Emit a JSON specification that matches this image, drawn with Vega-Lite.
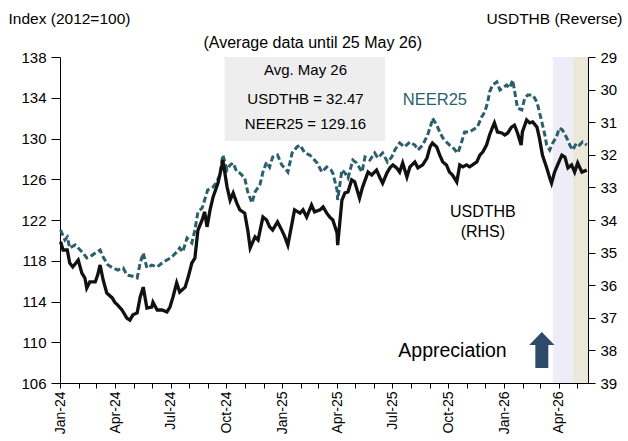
{
  "$schema": "https://vega.github.io/schema/vega-lite/v6.json",
  "width": 528,
  "height": 326,
  "autosize": {"type": "none"},
  "padding": {"left": 60, "top": 57, "right": 40, "bottom": 58},
  "background": "white",
  "config": {
    "font": "Liberation Sans",
    "view": {"stroke": null},
    "axis": {"labelFont": "Liberation Sans", "titleFont": "Liberation Sans", "labelColor": "#000", "titleColor": "#000", "domainColor": "#000", "tickColor": "#000", "grid": false, "titleFontWeight": "normal"}
  },
  "datasets": {
    "neer": [
      {"d": "2024-01-02", "v": 121.02}, {"d": "2024-01-09", "v": 120.04}, {"d": "2024-01-13", "v": 120.33}, {"d": "2024-01-17", "v": 119.25},
      {"d": "2024-01-26", "v": 119.55}, {"d": "2024-01-31", "v": 119.25}, {"d": "2024-02-08", "v": 118.76}, {"d": "2024-02-14", "v": 118.27},
      {"d": "2024-02-19", "v": 118.37}, {"d": "2024-02-28", "v": 118.76}, {"d": "2024-03-07", "v": 119.06}, {"d": "2024-03-12", "v": 118.37},
      {"d": "2024-03-20", "v": 117.58}, {"d": "2024-03-28", "v": 117.29}, {"d": "2024-04-05", "v": 117.09}, {"d": "2024-04-14", "v": 117.29},
      {"d": "2024-04-20", "v": 116.6}, {"d": "2024-04-28", "v": 116.5}, {"d": "2024-05-07", "v": 116.31}, {"d": "2024-05-12", "v": 117.78},
      {"d": "2024-05-17", "v": 118.76}, {"d": "2024-05-23", "v": 117.29}, {"d": "2024-05-31", "v": 117.58}, {"d": "2024-06-09", "v": 117.39},
      {"d": "2024-06-17", "v": 117.78}, {"d": "2024-06-25", "v": 118.07}, {"d": "2024-07-03", "v": 118.37}, {"d": "2024-07-11", "v": 118.86},
      {"d": "2024-07-16", "v": 119.25}, {"d": "2024-07-21", "v": 118.86}, {"d": "2024-07-28", "v": 120.23}, {"d": "2024-08-05", "v": 119.74},
      {"d": "2024-08-10", "v": 121.02}, {"d": "2024-08-15", "v": 122.79}, {"d": "2024-08-22", "v": 123.18}, {"d": "2024-08-26", "v": 123.96},
      {"d": "2024-08-31", "v": 124.94}, {"d": "2024-09-09", "v": 125.24}, {"d": "2024-09-15", "v": 125.73}, {"d": "2024-09-20", "v": 126.42},
      {"d": "2024-09-25", "v": 128.38}, {"d": "2024-10-02", "v": 126.91}, {"d": "2024-10-07", "v": 127.4}, {"d": "2024-10-12", "v": 127.6},
      {"d": "2024-10-18", "v": 126.71}, {"d": "2024-10-23", "v": 126.61}, {"d": "2024-10-31", "v": 126.12}, {"d": "2024-11-05", "v": 124.75},
      {"d": "2024-11-12", "v": 123.67}, {"d": "2024-11-17", "v": 124.75}, {"d": "2024-11-25", "v": 125.44}, {"d": "2024-11-30", "v": 126.71},
      {"d": "2024-12-06", "v": 127.69}, {"d": "2024-12-11", "v": 127.2}, {"d": "2024-12-16", "v": 128.18}, {"d": "2024-12-24", "v": 128.38},
      {"d": "2024-12-31", "v": 127.4}, {"d": "2025-01-05", "v": 127.1}, {"d": "2025-01-10", "v": 126.71}, {"d": "2025-01-17", "v": 128.58},
      {"d": "2025-01-25", "v": 129.17}, {"d": "2025-01-30", "v": 129.36}, {"d": "2025-02-07", "v": 128.58}, {"d": "2025-02-15", "v": 128.38},
      {"d": "2025-02-20", "v": 128.09}, {"d": "2025-02-27", "v": 127.6}, {"d": "2025-03-07", "v": 126.71}, {"d": "2025-03-15", "v": 127.2},
      {"d": "2025-03-22", "v": 126.91}, {"d": "2025-03-25", "v": 126.61}, {"d": "2025-04-01", "v": 124.94}, {"d": "2025-04-02", "v": 123.96},
      {"d": "2025-04-09", "v": 126.91}, {"d": "2025-04-14", "v": 126.61}, {"d": "2025-04-19", "v": 126.12}, {"d": "2025-04-27", "v": 127.89},
      {"d": "2025-05-03", "v": 127.6}, {"d": "2025-05-12", "v": 126.71}, {"d": "2025-05-17", "v": 128.18}, {"d": "2025-05-25", "v": 127.89},
      {"d": "2025-06-02", "v": 128.58}, {"d": "2025-06-07", "v": 128.09}, {"d": "2025-06-15", "v": 128.58}, {"d": "2025-06-23", "v": 127.69},
      {"d": "2025-06-30", "v": 128.18}, {"d": "2025-07-05", "v": 128.87}, {"d": "2025-07-13", "v": 129.56}, {"d": "2025-07-21", "v": 129.17},
      {"d": "2025-07-30", "v": 129.66}, {"d": "2025-08-07", "v": 129.36}, {"d": "2025-08-12", "v": 128.87}, {"d": "2025-08-20", "v": 129.36},
      {"d": "2025-08-28", "v": 130.34}, {"d": "2025-09-04", "v": 131.62}, {"d": "2025-09-05", "v": 132.01}, {"d": "2025-09-12", "v": 131.33},
      {"d": "2025-09-17", "v": 130.64}, {"d": "2025-09-22", "v": 130.05}, {"d": "2025-09-28", "v": 129.66}, {"d": "2025-10-03", "v": 129.36},
      {"d": "2025-10-08", "v": 129.17}, {"d": "2025-10-15", "v": 128.67}, {"d": "2025-10-17", "v": 128.58}, {"d": "2025-10-23", "v": 129.66},
      {"d": "2025-10-28", "v": 130.64}, {"d": "2025-11-05", "v": 130.64}, {"d": "2025-11-10", "v": 130.83}, {"d": "2025-11-18", "v": 131.13},
      {"d": "2025-11-25", "v": 132.11}, {"d": "2025-11-30", "v": 132.6}, {"d": "2025-12-05", "v": 133.58}, {"d": "2025-12-08", "v": 134.56},
      {"d": "2025-12-13", "v": 135.25}, {"d": "2025-12-20", "v": 135.55}, {"d": "2025-12-25", "v": 134.76}, {"d": "2025-12-30", "v": 134.96},
      {"d": "2026-01-05", "v": 135.25}, {"d": "2026-01-10", "v": 134.96}, {"d": "2026-01-15", "v": 135.74}, {"d": "2026-01-23", "v": 132.99},
      {"d": "2026-01-30", "v": 132.8}, {"d": "2026-02-04", "v": 133.98}, {"d": "2026-02-09", "v": 134.27}, {"d": "2026-02-17", "v": 134.27},
      {"d": "2026-02-24", "v": 133.58}, {"d": "2026-02-28", "v": 132.6}, {"d": "2026-03-04", "v": 131.62}, {"d": "2026-03-09", "v": 130.34},
      {"d": "2026-03-12", "v": 129.36}, {"d": "2026-03-17", "v": 128.87}, {"d": "2026-03-22", "v": 129.56}, {"d": "2026-03-28", "v": 130.15},
      {"d": "2026-04-02", "v": 131.03}, {"d": "2026-04-07", "v": 130.83}, {"d": "2026-04-14", "v": 130.05}, {"d": "2026-04-19", "v": 129.36},
      {"d": "2026-04-24", "v": 128.87}, {"d": "2026-04-30", "v": 129.56}, {"d": "2026-05-05", "v": 129.36}, {"d": "2026-05-10", "v": 129.66},
      {"d": "2026-05-17", "v": 129.36}
    ],
    "thb": [
      {"d": "2024-01-02", "v": 34.67}, {"d": "2024-01-06", "v": 34.92}, {"d": "2024-01-13", "v": 34.92}, {"d": "2024-01-17", "v": 35.32},
      {"d": "2024-01-22", "v": 35.44}, {"d": "2024-01-31", "v": 35.23}, {"d": "2024-02-06", "v": 35.63}, {"d": "2024-02-11", "v": 35.78},
      {"d": "2024-02-14", "v": 36.09}, {"d": "2024-02-19", "v": 35.9}, {"d": "2024-02-28", "v": 35.9}, {"d": "2024-03-03", "v": 35.69},
      {"d": "2024-03-07", "v": 35.38}, {"d": "2024-03-12", "v": 35.84}, {"d": "2024-03-18", "v": 36.24}, {"d": "2024-03-27", "v": 36.39},
      {"d": "2024-03-31", "v": 36.52}, {"d": "2024-04-05", "v": 36.61}, {"d": "2024-04-12", "v": 36.76}, {"d": "2024-04-20", "v": 37.01},
      {"d": "2024-04-25", "v": 37.07}, {"d": "2024-04-30", "v": 36.91}, {"d": "2024-05-07", "v": 36.85}, {"d": "2024-05-12", "v": 36.36},
      {"d": "2024-05-17", "v": 36.06}, {"d": "2024-05-23", "v": 36.7}, {"d": "2024-05-31", "v": 36.67}, {"d": "2024-06-02", "v": 36.52},
      {"d": "2024-06-09", "v": 36.76}, {"d": "2024-06-17", "v": 36.76}, {"d": "2024-06-25", "v": 36.82}, {"d": "2024-06-30", "v": 36.67},
      {"d": "2024-07-05", "v": 36.36}, {"d": "2024-07-11", "v": 35.93}, {"d": "2024-07-16", "v": 36.21}, {"d": "2024-07-25", "v": 36.06},
      {"d": "2024-07-30", "v": 35.75}, {"d": "2024-08-05", "v": 35.32}, {"d": "2024-08-10", "v": 35.17}, {"d": "2024-08-15", "v": 34.31},
      {"d": "2024-08-22", "v": 34.0}, {"d": "2024-08-26", "v": 33.75}, {"d": "2024-08-30", "v": 34.21}, {"d": "2024-09-04", "v": 33.69},
      {"d": "2024-09-09", "v": 33.29}, {"d": "2024-09-17", "v": 32.87}, {"d": "2024-09-23", "v": 32.37}, {"d": "2024-09-25", "v": 32.16},
      {"d": "2024-10-02", "v": 32.99}, {"d": "2024-10-07", "v": 33.39}, {"d": "2024-10-12", "v": 33.17}, {"d": "2024-10-18", "v": 33.48},
      {"d": "2024-10-23", "v": 33.69}, {"d": "2024-10-31", "v": 33.79}, {"d": "2024-11-05", "v": 34.31}, {"d": "2024-11-09", "v": 34.86},
      {"d": "2024-11-17", "v": 34.52}, {"d": "2024-11-22", "v": 34.61}, {"d": "2024-11-30", "v": 33.91}, {"d": "2024-12-06", "v": 34.0},
      {"d": "2024-12-11", "v": 34.21}, {"d": "2024-12-16", "v": 34.31}, {"d": "2024-12-24", "v": 34.06}, {"d": "2024-12-31", "v": 34.31},
      {"d": "2025-01-05", "v": 34.52}, {"d": "2025-01-10", "v": 34.77}, {"d": "2025-01-17", "v": 34.09}, {"d": "2025-01-21", "v": 33.69},
      {"d": "2025-01-30", "v": 33.79}, {"d": "2025-02-04", "v": 33.69}, {"d": "2025-02-10", "v": 33.91}, {"d": "2025-02-18", "v": 33.54},
      {"d": "2025-02-23", "v": 33.75}, {"d": "2025-03-04", "v": 33.69}, {"d": "2025-03-09", "v": 33.6}, {"d": "2025-03-15", "v": 33.79},
      {"d": "2025-03-20", "v": 33.91}, {"d": "2025-03-25", "v": 34.0}, {"d": "2025-04-01", "v": 34.4}, {"d": "2025-04-02", "v": 34.77},
      {"d": "2025-04-09", "v": 33.39}, {"d": "2025-04-14", "v": 33.17}, {"d": "2025-04-19", "v": 33.14}, {"d": "2025-04-25", "v": 32.77},
      {"d": "2025-04-30", "v": 32.83}, {"d": "2025-05-08", "v": 33.33}, {"d": "2025-05-13", "v": 32.99}, {"d": "2025-05-22", "v": 32.53},
      {"d": "2025-05-28", "v": 32.62}, {"d": "2025-06-05", "v": 32.47}, {"d": "2025-06-10", "v": 32.68}, {"d": "2025-06-15", "v": 32.87},
      {"d": "2025-06-22", "v": 32.56}, {"d": "2025-06-27", "v": 32.4}, {"d": "2025-07-02", "v": 32.31}, {"d": "2025-07-08", "v": 32.4},
      {"d": "2025-07-13", "v": 32.53}, {"d": "2025-07-18", "v": 32.25}, {"d": "2025-07-25", "v": 32.68}, {"d": "2025-07-30", "v": 32.37},
      {"d": "2025-08-07", "v": 32.22}, {"d": "2025-08-12", "v": 32.4}, {"d": "2025-08-20", "v": 32.31}, {"d": "2025-08-27", "v": 32.1},
      {"d": "2025-09-01", "v": 31.76}, {"d": "2025-09-05", "v": 31.64}, {"d": "2025-09-12", "v": 31.76}, {"d": "2025-09-17", "v": 32.01},
      {"d": "2025-09-22", "v": 32.22}, {"d": "2025-09-28", "v": 32.31}, {"d": "2025-10-03", "v": 32.53}, {"d": "2025-10-08", "v": 32.62},
      {"d": "2025-10-15", "v": 32.83}, {"d": "2025-10-20", "v": 32.31}, {"d": "2025-10-25", "v": 32.37}, {"d": "2025-10-31", "v": 32.31},
      {"d": "2025-11-05", "v": 32.37}, {"d": "2025-11-10", "v": 32.31}, {"d": "2025-11-17", "v": 32.22}, {"d": "2025-11-22", "v": 32.01},
      {"d": "2025-11-27", "v": 31.91}, {"d": "2025-12-03", "v": 31.7}, {"d": "2025-12-08", "v": 31.39}, {"d": "2025-12-13", "v": 31.15},
      {"d": "2025-12-16", "v": 31.02}, {"d": "2025-12-21", "v": 31.3}, {"d": "2025-12-28", "v": 31.33}, {"d": "2026-01-02", "v": 31.39},
      {"d": "2026-01-07", "v": 31.33}, {"d": "2026-01-13", "v": 31.15}, {"d": "2026-01-18", "v": 31.09}, {"d": "2026-01-23", "v": 31.33},
      {"d": "2026-01-29", "v": 31.7}, {"d": "2026-01-31", "v": 31.3}, {"d": "2026-02-07", "v": 30.93}, {"d": "2026-02-12", "v": 31.02},
      {"d": "2026-02-17", "v": 30.99}, {"d": "2026-02-24", "v": 31.15}, {"d": "2026-02-28", "v": 31.48}, {"d": "2026-03-05", "v": 32.01},
      {"d": "2026-03-12", "v": 32.4}, {"d": "2026-03-17", "v": 32.71}, {"d": "2026-03-20", "v": 32.87}, {"d": "2026-03-25", "v": 32.53},
      {"d": "2026-03-30", "v": 32.31}, {"d": "2026-04-06", "v": 32.01}, {"d": "2026-04-11", "v": 32.07}, {"d": "2026-04-16", "v": 32.4},
      {"d": "2026-04-22", "v": 32.31}, {"d": "2026-04-27", "v": 32.53}, {"d": "2026-05-02", "v": 32.25}, {"d": "2026-05-09", "v": 32.53},
      {"d": "2026-05-17", "v": 32.47}
    ]
  },
  "layer": [
    {
      "layer": [
        {
          "data": {"values": [
            {"s": "2026-03-22", "e": "2026-04-24", "k": "a"},
            {"s": "2026-04-24", "e": "2026-05-19", "k": "b"}
          ]},
          "mark": {"type": "rect"},
          "encoding": {
            "x": {
              "field": "s", "type": "temporal",
              "scale": {"type": "utc", "nice": false, "domain": [{"year": 2024, "month": 1, "date": 1, "utc": true}, {"year": 2026, "month": 5, "date": 19, "utc": true}]},
              "axis": {
                "title": null,
                "tickCount": {"interval": "month", "step": 1},
                "labelExpr": "utcmonth(datum.value) % 3 == 0 ? utcFormat(datum.value, '%b-%y') : ''",
                "labelAngle": -90,
                "labelFontSize": 14,
                "labelOverlap": false,
                "labelBound": false,
                "labelFlush": false,
                "tickSize": 5,
                "labelPadding": 3
              }
            },
            "x2": {"field": "e"},
            "color": {"field": "k", "type": "nominal", "scale": {"domain": ["a", "b"], "range": ["#eeecf6", "#ebe8da"]}, "legend": null}
          }
        },
        {
          "data": {"values": [{"d1": "2024-09-28", "d2": "2025-06-19", "top": 138, "bot": 129.75}]},
          "mark": {"type": "rect", "color": "#eeeeee"},
          "encoding": {
            "x": {"field": "d1", "type": "temporal"},
            "x2": {"field": "d2"},
            "y": {"field": "top", "type": "quantitative"},
            "y2": {"field": "bot"}
          }
        },
        {
          "data": {"name": "neer"},
          "mark": {"type": "line", "color": "#2a5f6b", "strokeWidth": 3, "strokeDash": [6, 3]},
          "encoding": {
            "x": {"field": "d", "type": "temporal"},
            "y": {
              "field": "v", "type": "quantitative",
              "scale": {"domain": [106, 138], "nice": false, "zero": false},
              "axis": {
                "values": [106, 110, 114, 118, 122, 126, 130, 134, 138],
                "format": "d",
                "tickSize": 9,
                "labelPadding": 5,
                "labelFontSize": 15,
                "title": "Index (2012=100)",
                "titleAngle": 0,
                "titleAlign": "left",
                "titleBaseline": "middle",
                "titleX": -52,
                "titleY": -39,
                "titleFontSize": 15.5
              }
            }
          }
        },
        {
          "data": {"values": [
            {"d": "2025-02-08", "v": 136.72, "t": "Avg. May 26"},
            {"d": "2025-02-08", "v": 133.88, "t": "USDTHB = 32.47"},
            {"d": "2025-02-08", "v": 131.42, "t": "NEER25 = 129.16"}
          ]},
          "mark": {"type": "text", "fontSize": 15, "color": "#000", "align": "center", "baseline": "middle"},
          "encoding": {"x": {"field": "d", "type": "temporal"}, "y": {"field": "v", "type": "quantitative"}, "text": {"field": "t"}}
        },
        {
          "data": {"values": [
            {"d": "2025-02-20", "v": 139.4, "t": "(Average data until 25 May 26)"},
            {"d": "2025-11-27", "v": 122.79, "t": "USDTHB"},
            {"d": "2025-11-27", "v": 120.82, "t": "(RHS)"}
          ]},
          "mark": {"type": "text", "fontSize": 16, "color": "#000", "align": "center", "baseline": "middle"},
          "encoding": {"x": {"field": "d", "type": "temporal"}, "y": {"field": "v", "type": "quantitative"}, "text": {"field": "t"}}
        },
        {
          "data": {"values": [{"d": "2025-09-09", "v": 133.78, "t": "NEER25"}]},
          "mark": {"type": "text", "fontSize": 16.5, "color": "#2a5f6b", "align": "center", "baseline": "middle"},
          "encoding": {"x": {"field": "d", "type": "temporal"}, "y": {"field": "v", "type": "quantitative"}, "text": {"field": "t"}}
        },
        {
          "data": {"values": [{"d": "2025-10-08", "v": 109.14, "t": "Appreciation"}]},
          "mark": {"type": "text", "fontSize": 19.5, "color": "#000", "align": "center", "baseline": "middle"},
          "encoding": {"x": {"field": "d", "type": "temporal"}, "y": {"field": "v", "type": "quantitative"}, "text": {"field": "t"}}
        },
        {
          "data": {"values": [{"d": "2026-03-04", "v": 109.24}]},
          "mark": {"type": "point", "filled": true, "opacity": 1, "color": "#2d4a6b", "size": 1296, "strokeWidth": 0,
            "shape": "M 0 -1 L 0.7 -0.28 L 0.36 -0.28 L 0.36 1 L -0.36 1 L -0.36 -0.28 L -0.7 -0.28 Z"},
          "encoding": {"x": {"field": "d", "type": "temporal"}, "y": {"field": "v", "type": "quantitative"}}
        }
      ]
    },
    {
      "data": {"name": "thb"},
      "mark": {"type": "line", "color": "#111111", "strokeWidth": 3.3},
      "encoding": {
        "x": {"field": "d", "type": "temporal"},
        "y": {
          "field": "v", "type": "quantitative",
          "scale": {"domain": [29, 39], "reverse": true, "nice": false, "zero": false},
          "axis": {
            "orient": "right",
            "values": [29, 30, 31, 32, 33, 34, 35, 36, 37, 38, 39],
            "format": "d",
            "tickSize": 7,
            "labelPadding": 5,
            "labelFontSize": 15,
            "title": "USDTHB (Reverse)",
            "titleAngle": 0,
            "titleAlign": "right",
            "titleBaseline": "middle",
            "titleX": 34,
            "titleY": -39,
            "titleFontSize": 15.5
          }
        }
      }
    }
  ],
  "resolve": {"scale": {"y": "independent"}, "axis": {"y": "independent"}}
}
